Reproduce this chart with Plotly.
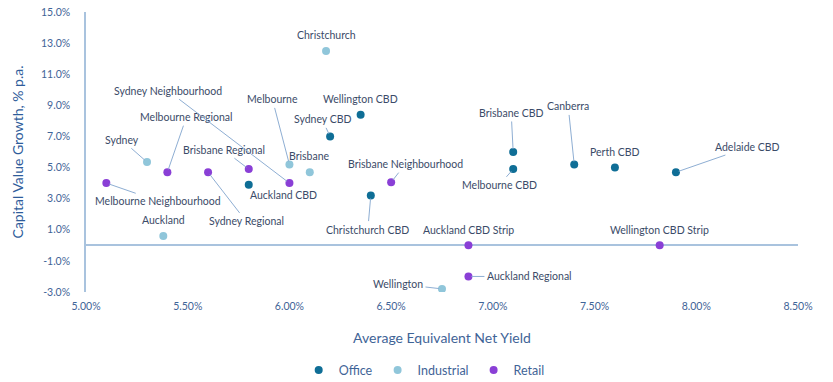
import plotly.graph_objects as go

# ---- data ----
office_names = ["Wellington CBD", "Sydney CBD", "Auckland CBD", "Christchurch CBD",
                "Brisbane CBD", "Melbourne CBD", "Canberra", "Perth CBD", "Adelaide CBD"]
office_yield = [6.35, 6.20, 5.80, 6.40, 7.10, 7.10, 7.40, 7.60, 7.90]
office_growth = [8.4, 7.0, 3.9, 3.2, 6.0, 4.9, 5.2, 5.0, 4.7]

industrial_names = ["Christchurch", "Sydney", "Melbourne", "Brisbane", "Auckland", "Wellington"]
industrial_yield = [6.18, 5.30, 6.00, 6.10, 5.38, 6.75]
industrial_growth = [12.5, 5.35, 5.2, 4.7, 0.6, -2.8]

retail_names = ["Melbourne Neighbourhood", "Melbourne Regional", "Sydney Regional",
                "Brisbane Regional", "Sydney Neighbourhood", "Brisbane Neighbourhood",
                "Auckland CBD Strip", "Auckland Regional", "Wellington CBD Strip"]
retail_yield = [5.10, 5.40, 5.60, 5.80, 6.00, 6.50, 6.88, 6.88, 7.82]
retail_growth = [4.0, 4.7, 4.7, 4.9, 4.0, 4.05, 0.0, -2.0, 0.0]

y_ticks = [15, 13, 11, 9, 7, 5, 3, 1, -1, -3]
x_ticks = [5.0, 5.5, 6.0, 6.5, 7.0, 7.5, 8.0, 8.5]

# ---- label placement (pixel offsets of label centre from point, leader line on/off) ----
label_pos = {
    "Wellington CBD": (0, -16, False),
    "Sydney CBD": (-8, -17, True),
    "Auckland CBD": (35, 10, False),
    "Christchurch CBD": (-3, 34, True),
    "Brisbane CBD": (-2, -39, True),
    "Melbourne CBD": (-14, 16, True),
    "Canberra": (-6, -58, True),
    "Perth CBD": (0, -16, False),
    "Adelaide CBD": (72, -25, True),
    "Christchurch": (0, -16, False),
    "Sydney": (-25, -22, True),
    "Melbourne": (-17, -65, True),
    "Brisbane": (0, -16, False),
    "Auckland": (0, -16, False),
    "Wellington": (-44, -5, True),
    "Melbourne Neighbourhood": (52, 18, True),
    "Melbourne Regional": (19, -55, True),
    "Sydney Regional": (38, 49, True),
    "Brisbane Regional": (-25, -19, True),
    "Sydney Neighbourhood": (-121, -92, True),
    "Brisbane Neighbourhood": (14, -18, True),
    "Auckland CBD Strip": (0, -15, False),
    "Auckland Regional": (61, 0, True),
    "Wellington CBD Strip": (0, -15, False),
}

FONT = "Lato, 'Noto Sans', sans-serif"
TEXT = "#3B4B68"
TICK = "#3F6497"
AXIS = "#A9C3DE"
LEADER = "#8EAED3"

fig = go.Figure()
series = [
    ("Office", office_names, office_yield, office_growth, "#0F6E96"),
    ("Industrial", industrial_names, industrial_yield, industrial_growth, "#90C6DA"),
    ("Retail", retail_names, retail_yield, retail_growth, "#8A3FD6"),
]
annotations = []
for name, names, xs, ys, color in series:
    fig.add_trace(go.Scatter(
        x=xs, y=ys, mode="markers", name=name, text=names,
        marker=dict(size=8, color=color),
        hovertemplate="%{text}<br>%{x:.2f}%, %{y:.1f}%<extra></extra>",
    ))
    for n, xv, yv in zip(names, xs, ys):
        ax, ay, line = label_pos[n]
        annotations.append(dict(
            x=xv, y=yv, xref="x", yref="y", text=n,
            showarrow=True, ax=ax, ay=ay, axref="pixel", ayref="pixel",
            arrowhead=0, arrowwidth=1,
            arrowcolor=LEADER if line else "rgba(0,0,0,0)",
            standoff=3, startstandoff=1,
            font=dict(family=FONT, size=10.5, color=TEXT),
        ))

fig.update_layout(
    width=833, height=382,
    margin=dict(l=86, r=35, t=12, b=90, autoexpand=False),
    paper_bgcolor="white", plot_bgcolor="white",
    font=dict(family=FONT, color=TEXT),
    showlegend=True,
    legend=dict(orientation="h", x=0.475, xanchor="center", y=-0.28, yanchor="middle",
                font=dict(family=FONT, size=12.5, color=TICK),
                itemsizing="trace", itemwidth=30, tracegroupgap=0,
                bgcolor="rgba(0,0,0,0)"),
    xaxis=dict(
        range=[5.0, 8.5], tickvals=x_ticks,
        ticktext=[f"{v:.2f}%" for v in x_ticks],
        showgrid=False, zeroline=False, showline=False, ticks="",
        automargin=False, ticklabelstandoff=6,
        tickfont=dict(family=FONT, size=10.5, color=TICK),
        title=dict(text="Average Equivalent Net Yield", standoff=22,
                   font=dict(family=FONT, size=14, color=TICK)),
    ),
    yaxis=dict(
        range=[-3, 15], tickvals=y_ticks,
        ticktext=[f"{v:.1f}%" for v in y_ticks],
        showgrid=False, zeroline=True, zerolinecolor=AXIS, zerolinewidth=1.5,
        showline=True, linecolor=AXIS, linewidth=1.5, ticks="",
        automargin=False, ticklabelstandoff=12, ticklabeloverflow="allow",
        tickfont=dict(family=FONT, size=10.5, color=TICK),
        title=dict(text="Capital Value Growth, % p.a.", standoff=14,
                   font=dict(family=FONT, size=14, color="#2E5C9A")),
    ),
    annotations=annotations,
)

# remove the browser's default 8px body margin so the figure fills the window exactly
fig.write_html("out.html",
               config={"displayModeBar": False},
               post_script="document.body.style.margin='0';document.body.style.padding='0';")
